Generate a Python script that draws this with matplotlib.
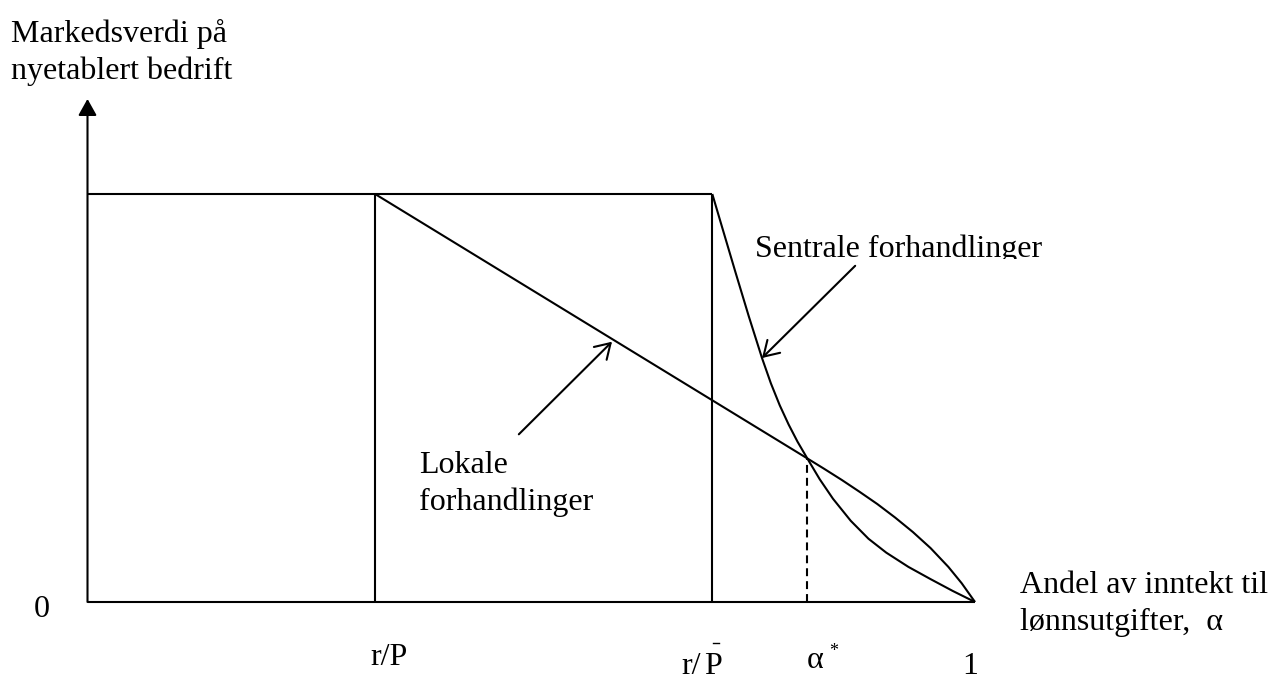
import matplotlib
matplotlib.use("Agg")
import matplotlib.pyplot as plt
from matplotlib.transforms import Bbox
from matplotlib.lines import Line2D

# ---- data ----
x_rP = 0.324          # r/P
x_rPbar = 0.704       # r/P-bar
alpha_star = 0.811    # alpha*
y_top = 1.0           # flat market value
y_star = 0.352        # value at alpha*
y_axis_top = 1.233    # arrow tip of the value axis

lokal_x = [0.324, 0.690, 0.811, 0.830, 0.850, 0.870, 0.890, 0.910, 0.930,
           0.950, 0.970, 0.985, 1.000]
lokal_y = [1.000, 0.513, 0.352, 0.3265, 0.299, 0.270, 0.240, 0.207, 0.1715,
           0.132, 0.086, 0.046, 0.000]

sentral_x = [0.704, 0.715, 0.730, 0.745, 0.760, 0.770, 0.780, 0.790, 0.800,
             0.811, 0.825, 0.840, 0.860, 0.880, 0.900, 0.925, 0.950, 0.975,
             1.000]
sentral_y = [1.000, 0.919, 0.809, 0.701, 0.598, 0.536, 0.482, 0.435, 0.393,
             0.352, 0.301, 0.253, 0.199, 0.155, 0.121, 0.086, 0.056, 0.027,
             0.000]

sentral_arrow_tail = (0.865, 0.824)
sentral_arrow_tip = (0.760, 0.598)
lokal_arrow_tail = (0.486, 0.411)
lokal_arrow_tip = (0.591, 0.638)

W, H = 1272, 682
fig = plt.figure(figsize=(W / 100, H / 100), dpi=100)
fig.patch.set_facecolor("white")
ax = fig.add_axes([87.5 / W, (H - 602) / H, 887.5 / W, 408 / H])
ax.set_xlim(0, 1)
ax.set_ylim(0, 1)
ax.axis("off")

LW = 1.5
kw = dict(color="black", lw=LW, clip_on=False, solid_capstyle="butt",
          solid_joinstyle="round")

# axes
ax.plot([0, 1], [0, 0], **kw)
ax.annotate("", xy=(0, y_axis_top), xytext=(0, 0),
            arrowprops=dict(arrowstyle="-|>,head_length=1.0,head_width=0.56",
                            mutation_scale=10, lw=LW, color="black",
                            shrinkA=0, shrinkB=0),
            annotation_clip=False)

# rectangle structure
ax.plot([0, x_rPbar], [y_top, y_top], **kw)
ax.plot([x_rP, x_rP], [0, y_top], **kw)
ax.plot([x_rPbar, x_rPbar], [0, y_top], **kw)

# curves
ax.plot(lokal_x, lokal_y, **kw)
ax.plot(sentral_x, sentral_y, **kw)

# dashed alpha*
ax.plot([alpha_star, alpha_star], [0, y_star], color="black", lw=LW,
        linestyle=(0, (3.8, 2.4)), clip_on=False)

# annotation arrows
aprops = dict(arrowstyle="->,head_length=1.05,head_width=0.65",
              mutation_scale=10, lw=LW, color="black", shrinkA=0, shrinkB=0)
ax.annotate("", xy=sentral_arrow_tip, xytext=sentral_arrow_tail,
            arrowprops=aprops, annotation_clip=False)
ax.annotate("", xy=lokal_arrow_tip, xytext=lokal_arrow_tail,
            arrowprops=aprops, annotation_clip=False)

FONT = "Liberation Serif"
FS = 23


def ptext(x, y, s, fs=FS, ha="left", **k):
    return fig.text(x / W, 1 - y / H, s, fontsize=fs, family=FONT,
                    ha=ha, va="baseline", color="black", **k)


ptext(11, 42, "Markedsverdi på")
ptext(11, 79, "nyetablert bedrift")

t = ptext(755, 257, "Sentrale forhandlinger")
t.set_clip_box(Bbox.from_extents(0, H - 259, W, H))
t.set_clip_on(True)

ptext(419, 473, "Lokale")
ptext(419, 510, "forhandlinger")

ptext(1020, 593, "Andel av inntekt til")
ptext(1020, 630, "lønnsutgifter,  α")

ptext(34, 617, "0")
ptext(389, 665, "r/P", ha="center")
ptext(681, 674, "r/")
ptext(704, 674, "P")
# small bar above the P (r/P-bar)
fig.add_artist(Line2D([712.5 / W, 719 / W], [1 - 643 / H, 1 - 643 / H],
                      color="black", lw=1.0, transform=fig.transFigure))
ptext(807, 668, "α")
ptext(834, 656, "*", fs=13, ha="center")
ptext(970, 674, "1", ha="center")

fig.savefig("out.png", dpi=100, facecolor="white")
